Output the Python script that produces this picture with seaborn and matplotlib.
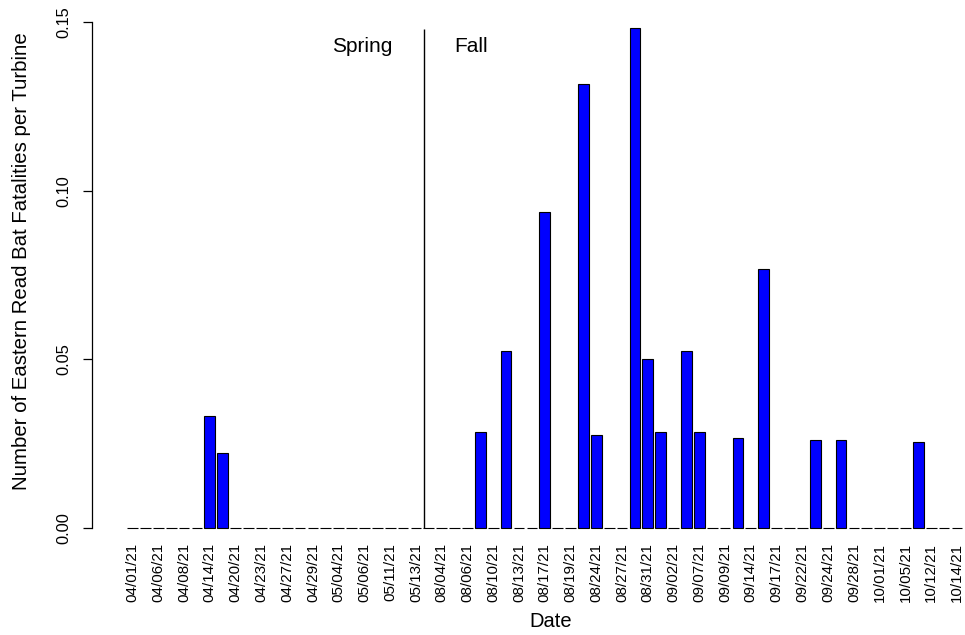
import matplotlib
matplotlib.use("Agg")
import matplotlib.pyplot as plt
import seaborn as sns
import pandas as pd

# Fatalities per turbine for each survey visit (spring visits first, then fall)
fatalities = [
    0, 0, 0, 0, 0, 0, 0.0332, 0.0221, 0, 0,
    0, 0, 0, 0, 0, 0, 0, 0, 0, 0,
    0, 0, 0, 0, 0, 0, 0, 0.0284, 0, 0.0525,
    0, 0, 0.0938, 0, 0, 0.1315, 0.0276, 0, 0, 0.1481,
    0.0501, 0.0284, 0, 0.0525, 0.0284, 0, 0, 0.0268, 0, 0.0768,
    0, 0, 0, 0.0260, 0, 0.0260, 0, 0, 0, 0,
    0, 0.0255, 0, 0, 0,
]
visit = list(range(len(fatalities)))

# Dates printed under every second visit
date_labels = [
    "04/01/21", "04/06/21", "04/08/21", "04/14/21", "04/20/21", "04/23/21",
    "04/27/21", "04/29/21", "05/04/21", "05/06/21", "05/11/21", "05/13/21",
    "08/04/21", "08/06/21", "08/10/21", "08/13/21", "08/17/21", "08/19/21",
    "08/24/21", "08/27/21", "08/31/21", "09/02/21", "09/07/21", "09/09/21",
    "09/14/21", "09/17/21", "09/22/21", "09/24/21", "09/28/21", "10/01/21",
    "10/05/21", "10/12/21", "10/14/21",
]
label_positions = visit[::2]

season_names = ["Spring", "Fall"]
season_split = 22.6

df = pd.DataFrame({"visit": visit, "fatalities": fatalities})

sns.set_style("white")
plt.rcParams["font.family"] = ["Liberation Sans", "DejaVu Sans"]
for key in ["text.color", "axes.labelcolor", "xtick.color", "ytick.color"]:
    plt.rcParams[key] = "black"

fig = plt.figure(figsize=(9.65, 6.35), dpi=100)
ax = fig.add_axes([92 / 965, 0.1526, 871 / 965, 0.8287])

sns.barplot(data=df, x="visit", y="fatalities", color="#0000FF",
            saturation=1, width=0.833, edgecolor="black", linewidth=0.8,
            ax=ax)

ax.set_xlim(-3.15, 64.47)
ax.set_ylim(-0.003, 0.153)

# Season divider and season names
ax.vlines(season_split, 0, 0.148, color="black", linewidth=1)
ax.text(17.8, 0.1412, season_names[0], ha="center", va="baseline", fontsize=15)
ax.text(26.3, 0.1412, season_names[1], ha="center", va="baseline", fontsize=15)

# Axes styling: only a left axis spanning the tick range
for side in ["top", "right", "bottom"]:
    ax.spines[side].set_visible(False)
ax.spines["left"].set_bounds(0, 0.15)
ax.spines["left"].set_color("black")
ax.spines["left"].set_linewidth(0.9)

ax.set_yticks([0, 0.05, 0.10, 0.15])
ax.set_yticklabels(["0.00", "0.05", "0.10", "0.15"], rotation=90, va="center",
                   fontsize=11.8)
ax.tick_params(axis="y", length=6.5, width=0.9, color="black", pad=8,
               left=True)

ax.set_xticks(label_positions)
ax.set_xticklabels(date_labels, rotation=90, fontsize=10.9)
ax.tick_params(axis="x", length=0, pad=3.3)

ax.set_xlabel("Date", fontsize=14.5)
ax.set_ylabel("Number of Eastern Read Bat Fatalities per Turbine", fontsize=14.7)
ax.xaxis.label.set_va("center")
ax.yaxis.label.set_va("center")
ax.xaxis.set_label_coords(0.5266, -0.1594)
ax.yaxis.set_label_coords(-0.0815, 0.5257)

fig.savefig("out.png", dpi=100, facecolor="white")
